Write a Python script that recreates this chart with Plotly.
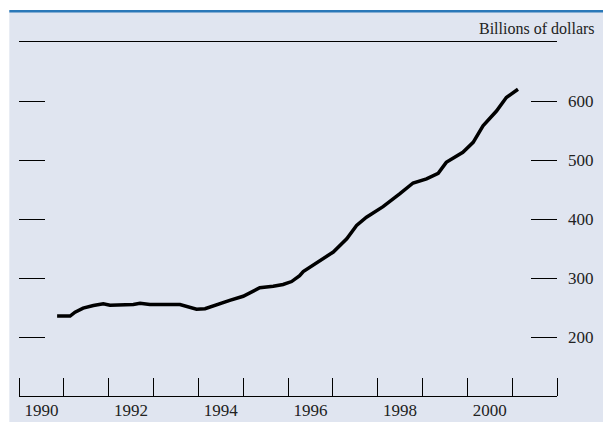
import plotly.graph_objects as go

# Data (fractional years, billions of dollars)
years = [1990.85, 1991.14, 1991.25, 1991.43, 1991.66, 1991.88, 1992.03, 1992.55,
         1992.70, 1992.92, 1993.59, 1993.81, 1993.96, 1994.15, 1994.41, 1994.70,
         1995.00, 1995.37, 1995.67, 1995.89, 1996.08, 1996.26, 1996.34, 1996.71,
         1997.01, 1997.31, 1997.53, 1997.75, 1998.12, 1998.49, 1998.79, 1999.09,
         1999.35, 1999.53, 1999.90, 2000.13, 2000.35, 2000.65, 2000.87, 2001.13]
values = [235.5, 235.5, 242, 249, 253.5, 256.5, 254, 255,
          257, 255, 255, 250, 247, 248, 255, 262,
          269, 283.5, 286, 289, 294, 304, 311, 330,
          344, 366.5, 389, 403, 421, 442.6, 461, 468,
          477.5, 496, 513, 530, 558, 583, 606, 620]

year_boundaries = list(range(1990, 2003))
year_label_pos = [1990.5, 1992.5, 1994.5, 1996.5, 1998.5, 2000.5]
year_labels = ["1990", "1992", "1994", "1996", "1998", "2000"]
y_ticks = [200, 300, 400, 500, 600]
y_labels = ["200", "300", "400", "500", "600"]
unit_label = "Billions of dollars"

PANEL = "#e0e5f0"
FONT = "Liberation Serif"
TXT = "#222222"

fig = go.Figure()
fig.add_trace(go.Scatter(x=years, y=values, mode="lines",
                         line=dict(color="black", width=3.5),
                         showlegend=False, hoverinfo="skip", yaxis="y"))
fig.add_trace(go.Scatter(x=years, y=values, mode="lines",
                         line=dict(color="rgba(0,0,0,0)", width=0),
                         showlegend=False, hoverinfo="skip", yaxis="y2"))

W, H = 603, 422
L, R, T, B = 19, 46, 42, 26
pw, ph = W - L - R, H - T - B

def px_to_paper_x(px):
    return (px - L) / pw

def px_to_paper_y(py):
    return (H - B - py) / ph

fig.update_layout(
    template="none",
    width=W, height=H,
    margin=dict(l=L, r=R, t=T, b=B, pad=0, autoexpand=False),
    paper_bgcolor="white",
    plot_bgcolor=PANEL,
    font=dict(family=FONT, size=17, color=TXT),
    xaxis=dict(
        range=[1990, 2002], showgrid=False, zeroline=False, automargin=False,
        showline=True, linecolor="black", linewidth=1.3, mirror=True,
        tickmode="array", tickvals=year_label_pos, ticktext=year_labels,
        ticks="", ticklabelstandoff=-2,
        minor=dict(tickmode="array", tickvals=year_boundaries, ticks="inside",
                   ticklen=18, tickwidth=1.3, tickcolor="black", showgrid=False),
    ),
    yaxis=dict(
        range=[100, 700], showgrid=False, zeroline=False, showline=False,
        automargin=False,
        tickmode="array", tickvals=y_ticks, ticks="inside", ticklen=26,
        tickwidth=1.3, tickcolor="black", showticklabels=False,
    ),
    yaxis2=dict(
        range=[100, 700], overlaying="y", side="right", anchor="x",
        showgrid=False, zeroline=False, showline=False, automargin=False,
        tickmode="array", tickvals=y_ticks, ticktext=y_labels,
        ticks="inside", ticklen=26, tickwidth=1.3, tickcolor="black",
        ticklabelstandoff=10,
    ),
    shapes=[
        dict(type="rect", xref="paper", yref="paper", layer="below",
             x0=px_to_paper_x(9.3), x1=px_to_paper_x(W + 5),
             y0=px_to_paper_y(H + 5), y1=px_to_paper_y(11),
             fillcolor=PANEL, line=dict(width=0)),
        dict(type="line", xref="paper", yref="paper",
             x0=px_to_paper_x(9.3), x1=px_to_paper_x(W + 5),
             y0=px_to_paper_y(11.2), y1=px_to_paper_y(11.2),
             line=dict(color="#2a78b8", width=2.5)),
    ],
    annotations=[
        dict(text=unit_label, xref="paper", yref="paper",
             x=px_to_paper_x(597), y=px_to_paper_y(28),
             xanchor="right", yanchor="middle", showarrow=False,
             font=dict(family=FONT, size=16, color=TXT)),
    ],
)

fig.write_html("out.html", config={"displayModeBar": False},
               post_script="document.body.style.margin='0px';document.body.style.overflow='hidden';")
